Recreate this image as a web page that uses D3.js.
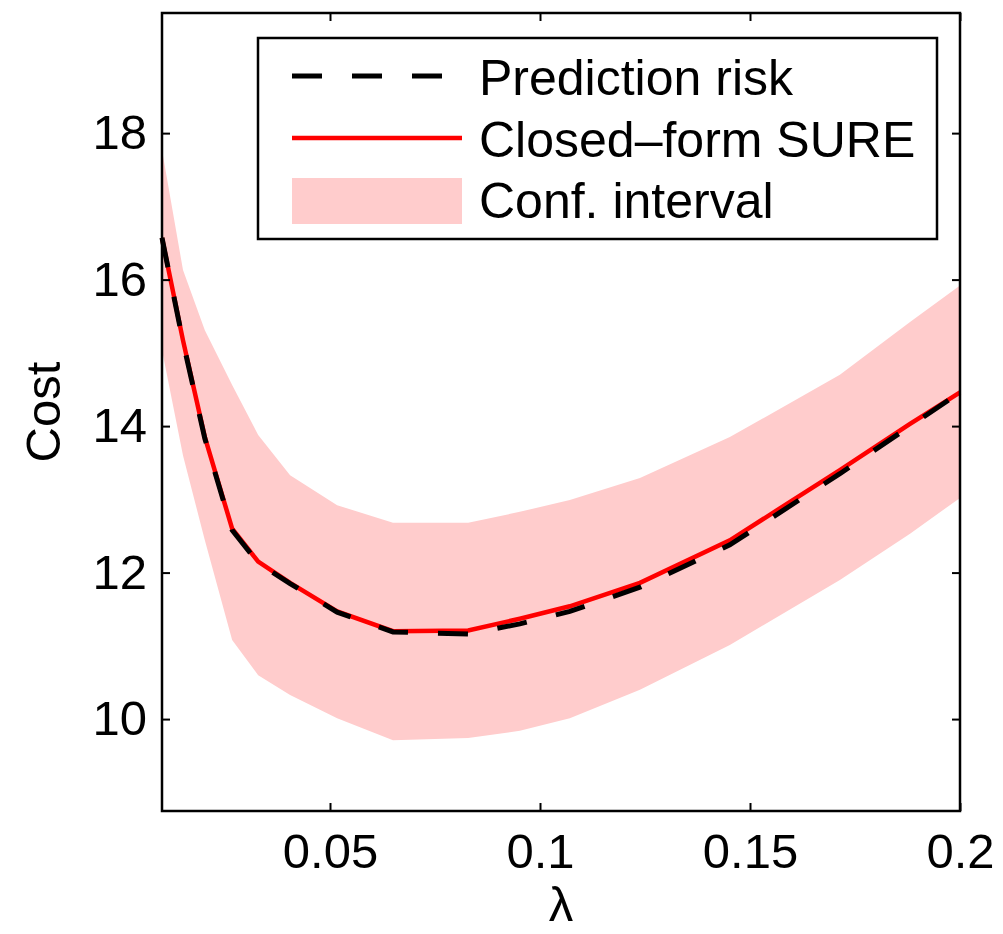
<!DOCTYPE html>
<meta charset="utf-8">
<html>
<head>
<title>Cost vs lambda</title>
<style>
  body { margin: 0; background: #fff; }
  text { font-family: "Liberation Sans", Arial, Helvetica, sans-serif; fill: #000; }
</style>
<script src="https://cdn.jsdelivr.net/npm/d3@7"></script>
</head>
<body>
<script>

    // values
    var lambdas   = [0.01, 0.015, 0.0202, 0.0267, 0.0329, 0.0405, 0.0517, 0.065, 0.0829, 0.0952, 0.1071, 0.1238, 0.1452, 0.1714, 0.1881, 0.2];
    var sure      = [16.57, 15.17, 13.85, 12.60, 12.15, 11.86, 11.47, 11.20, 11.21, 11.37, 11.54, 11.86, 12.44, 13.40, 14.03, 14.46];
    var risk      = [16.57, 15.15, 13.83, 12.58, 12.13, 11.85, 11.46, 11.19, 11.16, 11.30, 11.47, 11.80, 12.38, 13.35, 14.00, 14.46];
    var upper     = [17.77, 16.13, 15.31, 14.56, 13.88, 13.33, 12.92, 12.68, 12.68, 12.83, 12.99, 13.29, 13.85, 14.70, 15.42, 15.92];
    var lower     = [15.04, 13.60, 12.44, 11.08, 10.60, 10.33, 10.01, 9.71, 9.74, 9.84, 10.01, 10.40, 11.01, 11.90, 12.53, 13.02];

    var xTicks = [0.05, 0.1, 0.15, 0.2];
    var yTicks = [10, 12, 14, 16, 18];
    var legendLabels = ["Prediction risk", "Closed\u2013form SURE", "Conf. interval"];

    var width = 1003, height = 934;
    var margin = {left: 162, top: 13, right: 43, bottom: 123};
    var w = width - margin.left - margin.right,
        h = height - margin.top - margin.bottom;

    var svg = d3.select("body").append("svg")
        .attr("width", width)
        .attr("height", height);

    var g = svg.append("g").attr("transform", `translate(${margin.left},${margin.top})`);

    var x = d3.scaleLinear().domain([0.01, 0.2]).range([0, w]);
    var y = d3.scaleLinear().domain([8.745, 19.64]).range([h, 0]);

    var pts = lambdas.map((l, i) => ({l: l, s: sure[i], r: risk[i], u: upper[i], lo: lower[i]}));

    // confidence band
    g.append("path")
      .datum(pts)
      .attr("fill", "#ffcccc")
      .attr("d", d3.area().x(d => x(d.l)).y0(d => y(d.lo)).y1(d => y(d.u)));

    // closed-form SURE
    g.append("path")
      .datum(pts)
      .attr("fill", "none")
      .attr("stroke", "#ff0000")
      .attr("stroke-width", 4.5)
      .attr("d", d3.line().x(d => x(d.l)).y(d => y(d.s)));

    // prediction risk (dashed)
    g.append("path")
      .datum(pts)
      .attr("fill", "none")
      .attr("stroke", "#000")
      .attr("stroke-width", 5)
      .attr("stroke-dasharray", "30,30")
      .attr("d", d3.line().x(d => x(d.l)).y(d => y(d.r)));

    // axes, ticks pointing inward on all sides
    var fs = "49px";
    var tl = 8;
    g.append("g").attr("transform", `translate(0,${h})`)
      .call(d3.axisBottom(x).tickValues(xTicks).tickSize(-tl).tickPadding(22).tickFormat(d3.format("")))
      .call(a => a.selectAll("text").style("font-size", fs));
    g.append("g")
      .call(d3.axisTop(x).tickValues(xTicks).tickSize(-tl).tickFormat(""));
    g.append("g")
      .call(d3.axisLeft(y).tickValues(yTicks).tickSize(-tl).tickPadding(15))
      .call(a => a.selectAll("text").style("font-size", fs));
    g.append("g").attr("transform", `translate(${w},0)`)
      .call(d3.axisRight(y).tickValues(yTicks).tickSize(-tl).tickFormat(""));

    g.selectAll(".domain").remove();
    g.selectAll(".tick line").attr("stroke", "#000").attr("stroke-width", 2);
    g.selectAll(".tick text").attr("fill", "#000")
      .style("font-family", "'Liberation Sans', Arial, sans-serif");

    g.append("rect")
      .attr("width", w).attr("height", h)
      .attr("fill", "none").attr("stroke", "#000").attr("stroke-width", 2.5);

    // axis labels
    svg.append("text")
      .attr("transform", "translate(60,412) rotate(-90)")
      .attr("text-anchor", "middle")
      .style("font-size", fs)
      .text("Cost");
    svg.append("text")
      .attr("x", margin.left + w / 2).attr("y", 921)
      .attr("text-anchor", "middle")
      .style("font-size", fs)
      .text("\u03bb");

    // legend
    var lg = svg.append("g");
    lg.append("rect")
      .attr("x", 258).attr("y", 38).attr("width", 679).attr("height", 201)
      .attr("fill", "#fff").attr("stroke", "#000").attr("stroke-width", 2.5);
    lg.append("line")
      .attr("x1", 292).attr("x2", 462).attr("y1", 76).attr("y2", 76)
      .attr("stroke", "#000").attr("stroke-width", 5).attr("stroke-dasharray", "30,30");
    lg.append("line")
      .attr("x1", 292).attr("x2", 462).attr("y1", 138).attr("y2", 138)
      .attr("stroke", "#ff0000").attr("stroke-width", 4.5);
    lg.append("rect")
      .attr("x", 292).attr("y", 178).attr("width", 170).attr("height", 46)
      .attr("fill", "#ffcccc");
    lg.selectAll("text.lab")
      .data(legendLabels)
      .enter().append("text")
      .attr("class", "lab")
      .attr("x", 479)
      .attr("y", (d, i) => 95 + i * 61.5)
      .style("font-size", "50px")
      .text(d => d);

</script>
</body>
</html>
